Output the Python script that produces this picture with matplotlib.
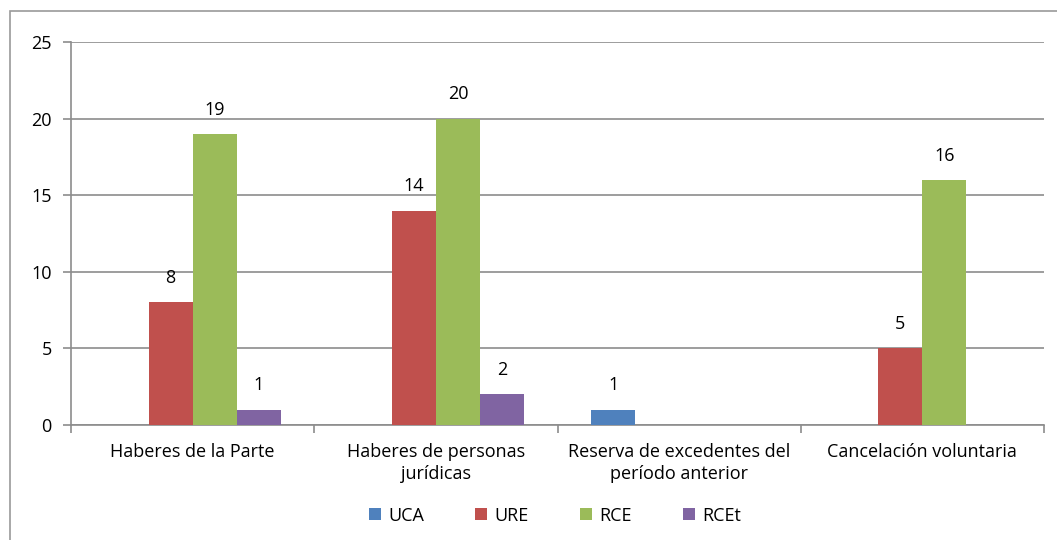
import numpy as np
import matplotlib
matplotlib.use("Agg")
import matplotlib.pyplot as plt
from matplotlib.patches import Rectangle

categories = [
    "Haberes de la Parte",
    "Haberes de personas\njurídicas",
    "Reserva de excedentes del\nperíodo anterior",
    "Cancelación voluntaria",
]
series = ["UCA", "URE", "RCE", "RCEt"]
uca = [0, 0, 1, 0]
ure = [8, 14, 0, 5]
rce = [19, 20, 0, 16]
rcet = [1, 2, 0, 0]
colors = ["#4F81BD", "#C0504D", "#9BBB59", "#8064A2"]

plt.rcParams["font.family"] = ["Open Sans", "DejaVu Sans"]
fs = 13

fig = plt.figure(figsize=(10.57, 5.4), dpi=100)
ax = fig.add_axes([0.0672, 0.213, 0.9205, 0.709])

# outer chart frame (cut off at right and bottom like the screenshot)
fig.add_artist(Rectangle((10 / 1057, -0.2), 1.2, 1.2 - 11 / 540,
                         transform=fig.transFigure, fill=False,
                         edgecolor="#9a9a9a", linewidth=1.2))

x = np.arange(len(categories))
w = 0.181
for i, (name, vals) in enumerate(zip(series, [uca, ure, rce, rcet])):
    pos = x + (i - 1.5) * w
    ax.bar(pos, vals, w, color=colors[i], label=name, zorder=3)
    for p, v in zip(pos, vals):
        if v:
            ax.text(p, v + 1.0, str(v), ha="center", va="bottom", fontsize=fs)

ax.set_xlim(-0.5, len(categories) - 0.5)
ax.set_ylim(0, 25)
ax.set_yticks(range(0, 26, 5))
ax.yaxis.grid(True, color="#8c8c8c", linewidth=1.2, zorder=0)
ax.set_axisbelow(True)

ax.set_xticks(x)
ax.set_xticklabels(categories, fontsize=fs, linespacing=1.3)
ax.set_xticks(np.arange(-0.5, len(categories), 1), minor=True)
ax.tick_params(axis="x", which="major", length=0, pad=13)
ax.tick_params(axis="x", which="minor", length=6, color="#8c8c8c", width=1.2)
ax.tick_params(axis="y", length=6, color="#8c8c8c", width=1.2, labelsize=fs, pad=8)

for s in ["top", "right"]:
    ax.spines[s].set_visible(False)
for s in ["left", "bottom"]:
    ax.spines[s].set_color("#8c8c8c")
    ax.spines[s].set_linewidth(1.2)

fig.legend(loc="center", bbox_to_anchor=(0.525, 0.045), ncol=4, frameon=False,
           fontsize=fs, handlelength=0.65, handleheight=0.65, handletextpad=0.4,
           columnspacing=2.85)

fig.savefig("out.png", dpi=100)
